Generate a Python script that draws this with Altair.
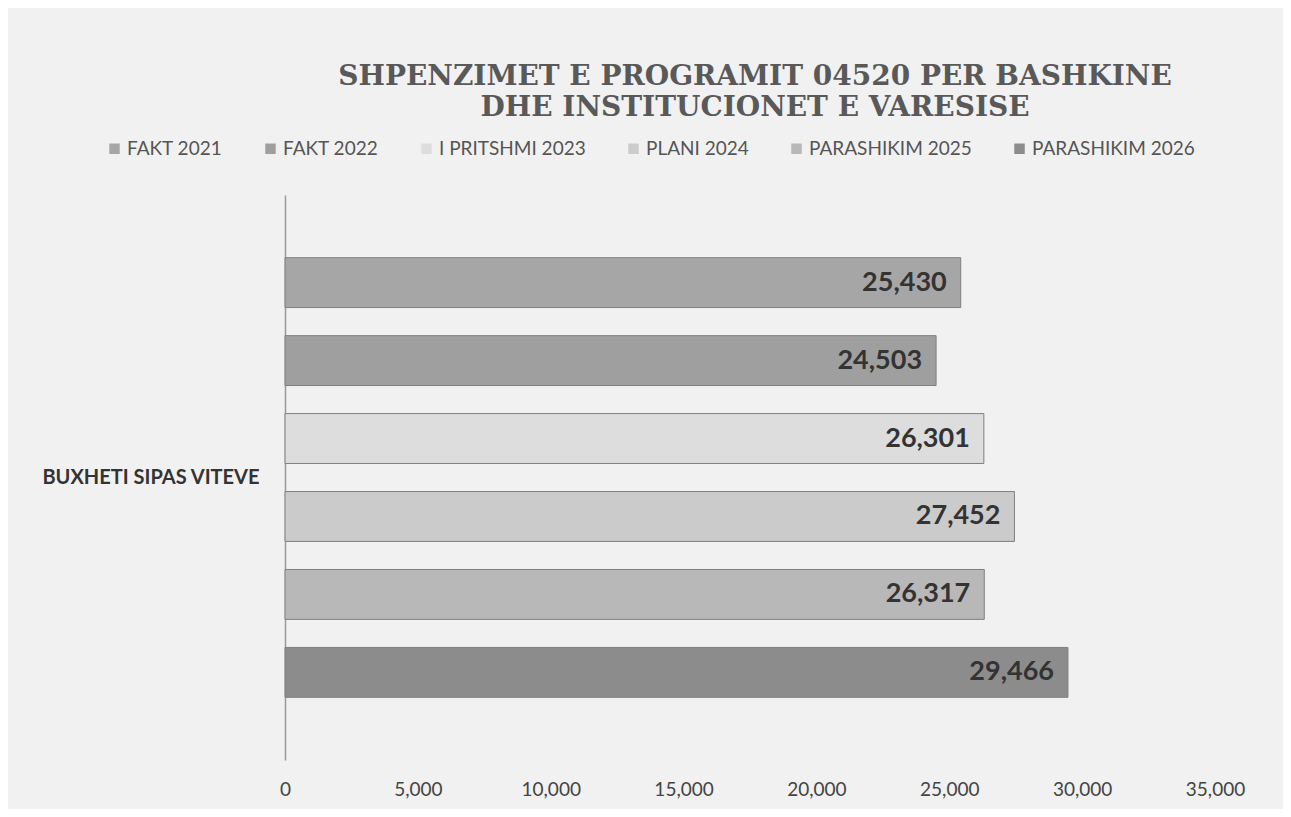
import altair as alt
import pandas as pd

category = "BUXHETI SIPAS VITEVE"
series = ["FAKT 2021", "FAKT 2022", "I PRITSHMI 2023", "PLANI 2024", "PARASHIKIM 2025", "PARASHIKIM 2026"]
values = [25430, 24503, 26301, 27452, 26317, 29466]
colors = ["#a6a6a6", "#9f9f9f", "#dddddd", "#cbcbcb", "#b8b8b8", "#8c8c8c"]
x_ticks = [0, 5000, 10000, 15000, 20000, 25000, 30000, 35000]

df = pd.DataFrame({"cat": [category] * len(series), "series": series, "value": values})

y_enc = alt.Y("cat:N", title=None,
              scale=alt.Scale(paddingInner=0, paddingOuter=0.104),
              axis=alt.Axis(labelFont="Lato", labelFontWeight="bold", labelFontSize=20,
                            labelColor="#333333", ticks=False, labelPadding=26,
                            domainColor="#9a9a9a", domainWidth=1.5, labelLimit=400))
yoff = alt.YOffset("series:N", sort=series,
                   scale=alt.Scale(paddingInner=0.36, paddingOuter=0.18))
x_enc = alt.X("value:Q", title=None,
              scale=alt.Scale(domain=[0, 35000], nice=False),
              axis=alt.Axis(values=x_ticks, format=",.0f", grid=False, domain=False, ticks=False,
                            labelFont="Lato", labelFontSize=19, labelColor="#444444",
                            labelPadding=20, labelFlush=False))

base = alt.Chart(df).encode(x=x_enc, y=y_enc, yOffset=yoff)

bars = base.mark_bar(stroke="#7f7f7f", strokeWidth=1).encode(
    color=alt.Color("series:N", sort=series,
                    scale=alt.Scale(domain=series, range=colors),
                    legend=alt.Legend(title=None, orient="none", direction="horizontal",
                                      columns=6, legendX=-180, legendY=-56,
                                      labelFont="Lato", labelFontSize=19, labelColor="#555555",
                                      labelLimit=400,
                                      symbolType="square", symbolSize=110, symbolStrokeWidth=0,
                                      columnPadding=38, labelOffset=3)),
)

labels = base.mark_text(align="right", baseline="middle", dx=-14,
                        font="Lato", fontWeight="bold", fontSize=27,
                        color="#333333").encode(
    text=alt.Text("value:Q", format=","),
)

chart = (bars + labels).properties(
    width=930, height=565,
    autosize=alt.AutoSizeParams(type="none"),
    padding={"left": 277, "top": 187, "right": 68, "bottom": 49},
    background="#f1f1f1",
    title=alt.TitleParams(
        text=["SHPENZIMET E PROGRAMIT 04520 PER BASHKINE", "DHE INSTITUCIONET E VARESISE"],
        font="DejaVu Serif", fontSize=28, fontWeight="bold", color="#595959",
        anchor="middle", lineHeight=31, offset=70, dy=53, dx=5,
    ),
).configure_view(stroke=None)

chart.save("out.html", embed_options={"renderer": "svg", "actions": False})
